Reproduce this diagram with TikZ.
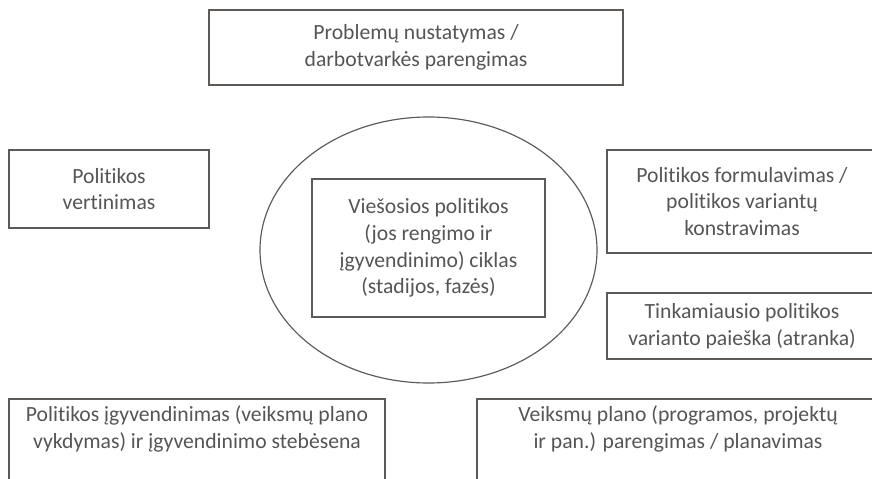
\documentclass[tikz,border=0pt]{standalone}
\usepackage{fontspec}
\setmainfont{Carlito}[Ligatures={NoCommon}]
\usetikzlibrary{shapes.geometric}
\def\pxu{0.03cm}
\definecolor{linegray}{HTML}{5E5A58}
\definecolor{textgray}{HTML}{555555}
\tikzset{
  stagebox/.style={draw=linegray, line width=1.3pt, text=textgray, align=center, inner sep=0pt, font=\fontsize{18.5}{22.8}\selectfont},
  cycleoval/.style={ellipse, draw=linegray, line width=1pt, inner sep=0pt, minimum width=337*\pxu, minimum height=266*\pxu},
}

\begin{document}
\begin{tikzpicture}[x=\pxu, y=-\pxu]
    \useasboundingbox (0,0) rectangle (872,479);
    \clip (0,0) rectangle (872,479);
    \node[stagebox, minimum width=414*\pxu, minimum height=75*\pxu] (problem) at (416,47.5) {Problemų nustatymas /\\darbotvarkės parengimas};
    \node[stagebox, minimum width=200*\pxu, minimum height=78*\pxu] (evaluation) at (109,189) {Politikos\\vertinimas};
    \node[cycleoval] (cycle) at (428.5,250) {};
    \node[stagebox, minimum width=233*\pxu, minimum height=138*\pxu] (policy) at (428.5,248) {Viešosios politikos\\(jos rengimo ir\\įgyvendinimo) ciklas\\(stadijos, fazės)};
    \node[stagebox, minimum width=270*\pxu, minimum height=103*\pxu] (formulation) at (742,201.5) {Politikos formulavimas /\\politikos variantų\\konstravimas};
    \node[stagebox, minimum width=270*\pxu, minimum height=66*\pxu] (selection) at (742,326) {Tinkamiausio politikos\\varianto paieška (atranka)};
    % bottom boxes run past the lower edge
    \node[stagebox, anchor=north, minimum width=376*\pxu, inner ysep=6pt, text depth=60*\pxu] (implementation) at (197,398) {Politikos įgyvendinimas (veiksmų plano\\vykdymas) ir įgyvendinimo stebėsena};
    \node[stagebox, anchor=north, minimum width=402*\pxu, inner ysep=6pt, text depth=60*\pxu] (planning) at (678,398) {Veiksmų plano (programos, projektų\\ir pan.) parengimas / planavimas};
\end{tikzpicture}
\end{document}
